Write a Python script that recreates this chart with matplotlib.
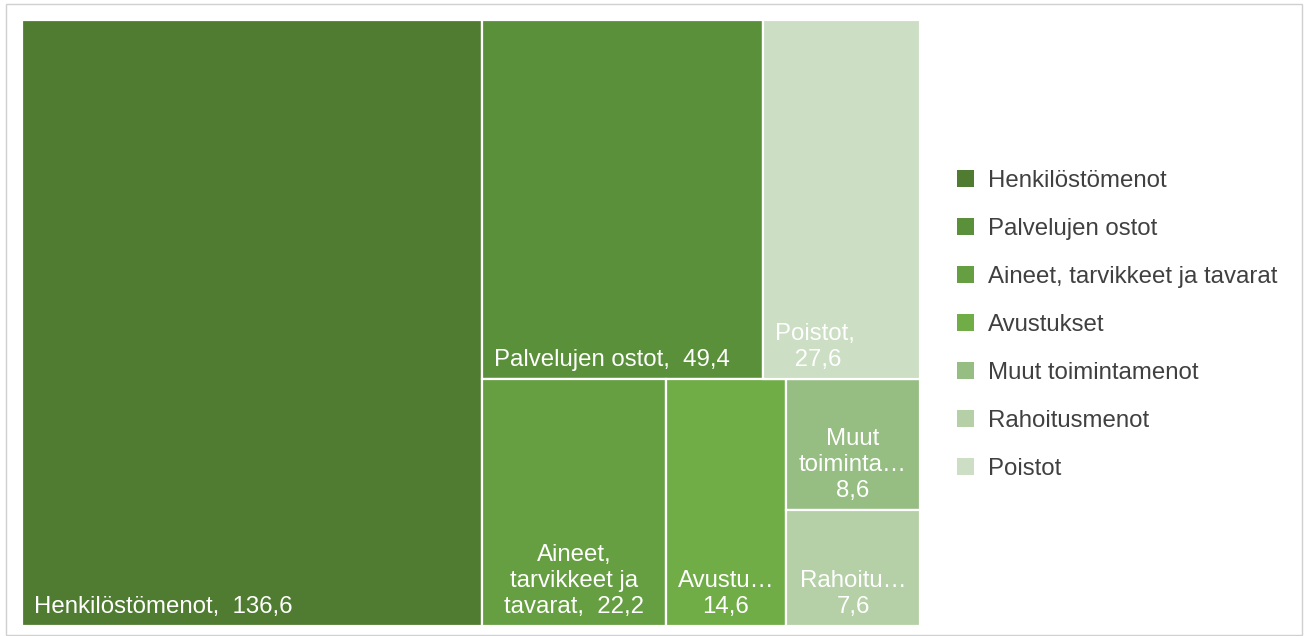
import matplotlib
matplotlib.use('Agg')
import matplotlib.pyplot as plt
from matplotlib.patches import Rectangle, Patch

# Categories and values (milj. euroa)
names = ['Henkilöstömenot', 'Palvelujen ostot', 'Aineet, tarvikkeet ja tavarat',
         'Avustukset', 'Muut toimintamenot', 'Rahoitusmenot', 'Poistot']
values = [136.6, 49.4, 22.2, 14.6, 8.6, 7.6, 27.6]
# labels as shown inside the tiles (wrapped / truncated like the original)
tile_names = ['Henkilöstömenot', 'Palvelujen ostot', 'Aineet,\ntarvikkeet ja\ntavarat',
              'Avustu…', 'Muut\ntoiminta…', 'Rahoitu…', 'Poistot']
separators = [',  ', ',  ', ',  ', '\n', '\n', '\n', ',\n ']
colors = ['#507C31', '#5B903B', '#669E42', '#70AD47', '#96BD82', '#B5CFA6', '#CCDEC3']
label_align = ['left', 'left', 'center', 'center', 'center', 'center', 'left']

# nesting of the tiles: alternate horizontal / vertical slicing
tree = [0, [[1, 6], [2, 3, [4, 5]]]]

FS = 17.3
W_PX, H_PX = 1306, 636
fig = plt.figure(figsize=(W_PX / 100, H_PX / 100), dpi=100)
plt.rcParams['font.family'] = ['Liberation Sans', 'DejaVu Sans']

# outer chart frame
fig.patches.append(Rectangle((6 / W_PX, 1 / H_PX), 1296 / W_PX, 631 / H_PX,
                             transform=fig.transFigure, fill=False,
                             edgecolor='#D0D0D0', linewidth=1))

ax_l, ax_t, ax_w, ax_h = 22, 20, 898, 606
ax = fig.add_axes([ax_l / W_PX, 1 - (ax_t + ax_h) / H_PX, ax_w / W_PX, ax_h / H_PX])
W, H = ax_w / ax_h, 1.0
ax.set_xlim(0, W)
ax.set_ylim(0, H)
ax.axis('off')


def total(node):
    if isinstance(node, int):
        return values[node]
    return sum(total(c) for c in node)


def place(node, x, y, w, h, horizontal, out):
    if isinstance(node, int):
        out[node] = (x, y, w, h)
        return
    t = total(node)
    if horizontal:
        cx = x
        for c in node:
            cw = w * total(c) / t
            place(c, cx, y, cw, h, False, out)
            cx += cw
    else:
        cy = y + h
        for c in node:
            ch = h * total(c) / t
            cy -= ch
            place(c, x, cy, w, ch, True, out)


rects = {}
place(tree, 0, 0, W, H, True, rects)

for i in range(len(values)):
    x, y, w, h = rects[i]
    ax.add_patch(Rectangle((x, y), w, h, facecolor=colors[i], edgecolor='white',
                           linewidth=1.6))
    val = f'{values[i]:.1f}'.replace('.', ',')
    txt = tile_names[i] + separators[i] + val
    if label_align[i] == 'left':
        ax.annotate(txt, xy=(x, y), xytext=(8.5, 6.0), textcoords='offset points',
                    ha='left', va='bottom', multialignment='center',
                    color='white', fontsize=FS, linespacing=1.24)
    else:
        ax.annotate(txt, xy=(x + w / 2, y), xytext=(0, 6.0), textcoords='offset points',
                    ha='center', va='bottom', multialignment='center',
                    color='white', fontsize=FS, linespacing=1.24)

handles = [Patch(facecolor=colors[i], edgecolor='none', label=names[i])
           for i in range(len(names))]
fig.legend(handles=handles, loc='center left',
           bbox_to_anchor=(957 / W_PX, 1 - 325 / H_PX),
           frameon=False, fontsize=FS, labelcolor='#404040',
           handlelength=0.71, handleheight=0.71, handletextpad=0.58,
           labelspacing=1.08, borderpad=0, borderaxespad=0)

fig.savefig('out.png', dpi=100)
